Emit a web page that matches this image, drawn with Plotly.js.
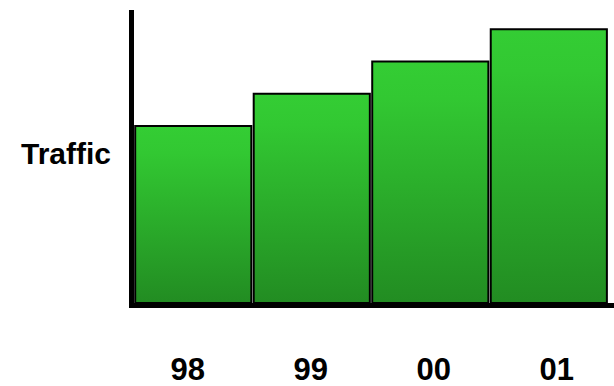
<!DOCTYPE html>
<html>
<head>
<meta charset="utf-8">
<script src="https://cdn.plot.ly/plotly-3.0.1.min.js"></script>
<style>html,body{margin:0;padding:0;background:#fff;}#chart{width:614px;height:386px;}</style>
</head>
<body>
<div id="chart"></div>
<script>
const categories = [0, 1, 2, 3];
const tickLabels = ['98', '99', '00', '01'];
const traffic = [5.5, 6.5, 7.5, 8.5];
const yLabel = 'Traffic';

const data = [
  {
    type: 'bar',
    x: categories,
    y: traffic,
    marker: { color: '#33CC33', line: { color: '#000000', width: 2 } },
    hoverinfo: 'skip',
    xaxis: 'x',
    yaxis: 'y'
  },
  {
    type: 'scatter',
    mode: 'markers',
    x: categories,
    y: traffic.map(() => 0),
    marker: { opacity: 0 },
    hoverinfo: 'skip',
    showlegend: false,
    xaxis: 'x2',
    yaxis: 'y'
  }
];

const layout = {
  width: 614,
  height: 386,
  margin: { l: 134, r: 0, t: 10, b: 83 },
  paper_bgcolor: '#ffffff',
  plot_bgcolor: '#ffffff',
  showlegend: false,
  bargap: 0.02,
  xaxis: {
    range: [-0.5, 3.55],
    showline: true, linecolor: '#000000', linewidth: 5,
    showgrid: false, zeroline: false, showticklabels: false, ticks: ''
  },
  xaxis2: {
    overlaying: 'x', anchor: 'y', side: 'bottom',
    range: [-0.437, 3.465],
    tickvals: categories, ticktext: tickLabels,
    showline: false, showgrid: false, zeroline: false, ticks: '',
    ticklabelstandoff: 45,
    tickfont: { family: 'Liberation Sans, Arial, sans-serif', size: 31, color: '#000000', weight: 'bold' }
  },
  yaxis: {
    range: [0, 9.1],
    showline: true, linecolor: '#000000', linewidth: 5,
    showgrid: false, zeroline: false, showticklabels: false, ticks: ''
  },
  annotations: [{
    text: yLabel, xref: 'paper', yref: 'paper', x: 0, y: 0.51,
    xanchor: 'right', yanchor: 'middle', xshift: -21, showarrow: false,
    font: { family: 'Liberation Sans, Arial, sans-serif', size: 30, color: '#000000', weight: 'bold' }
  }]
};

Plotly.newPlot('chart', data, layout, { staticPlot: true, displayModeBar: false }).then(function (gd) {
  const svg = gd.querySelector('svg.main-svg');
  const ns = 'http://www.w3.org/2000/svg';
  let defs = svg.querySelector('defs');
  if (!defs) { defs = document.createElementNS(ns, 'defs'); svg.insertBefore(defs, svg.firstChild); }
  const grad = document.createElementNS(ns, 'linearGradient');
  grad.setAttribute('id', 'barGrad');
  grad.setAttribute('x1', '0'); grad.setAttribute('y1', '0');
  grad.setAttribute('x2', '0'); grad.setAttribute('y2', '1');
  [['0', '#34CD34'], ['0.15', '#32C832'], ['1', '#228C22']].forEach(function (s) {
    const st = document.createElementNS(ns, 'stop');
    st.setAttribute('offset', s[0]);
    st.setAttribute('stop-color', s[1]);
    grad.appendChild(st);
  });
  defs.appendChild(grad);
  gd.querySelectorAll('.barlayer .point path').forEach(function (p) {
    p.style.fill = 'url(#barGrad)';
  });
});
</script>
</body>
</html>
